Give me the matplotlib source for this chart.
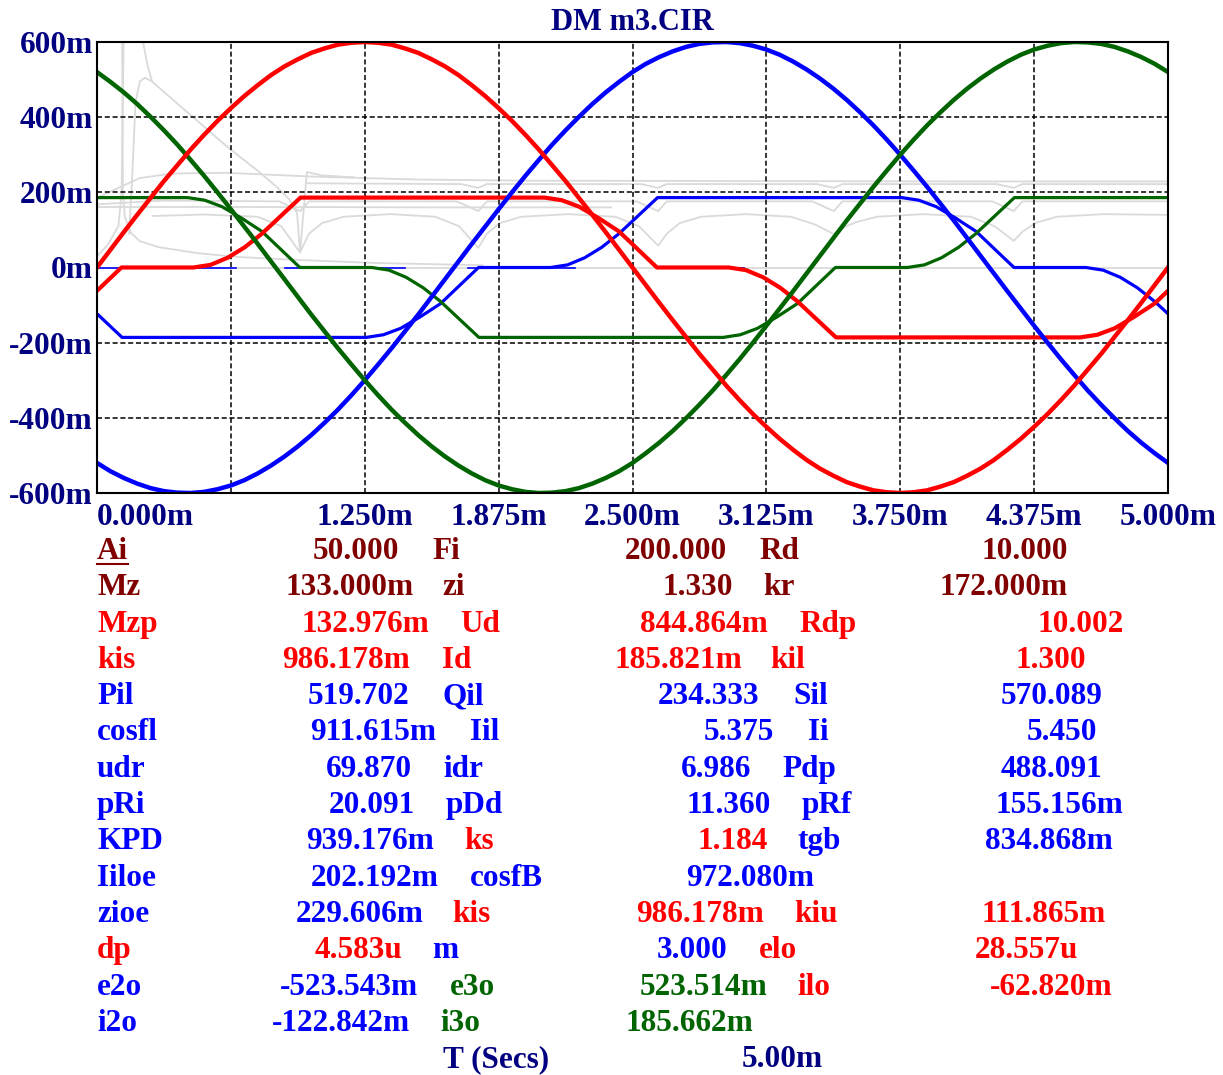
import matplotlib
matplotlib.use('Agg')
import matplotlib.pyplot as plt
from matplotlib.lines import Line2D

plt.rcParams['font.family'] = ['Liberation Serif', 'DejaVu Serif']
plt.rcParams['font.weight'] = 'bold'

W, H = 1223, 1075

# ---------------- data (time in ms, values in m-units) ----------------
t_sine = [0.0, 0.0625, 0.125, 0.1875, 0.25, 0.3125, 0.375, 0.4375, 0.5, 0.5625,
          0.625, 0.6875, 0.75, 0.8125, 0.875, 0.9375, 1.0, 1.0625, 1.125, 1.1875,
          1.25, 1.3125, 1.375, 1.4375, 1.5, 1.5625, 1.625, 1.6875, 1.75, 1.8125,
          1.875, 1.9375, 2.0, 2.0625, 2.125, 2.1875, 2.25, 2.3125, 2.375, 2.4375,
          2.5, 2.5625, 2.625, 2.6875, 2.75, 2.8125, 2.875, 2.9375, 3.0, 3.0625,
          3.125, 3.1875, 3.25, 3.3125, 3.375, 3.4375, 3.5, 3.5625, 3.625, 3.6875,
          3.75, 3.8125, 3.875, 3.9375, 4.0, 4.0625, 4.125, 4.1875, 4.25, 4.3125,
          4.375, 4.4375, 4.5, 4.5625, 4.625, 4.6875, 4.75, 4.8125, 4.875, 4.9375, 5.0]
e1 = [0, 47, 94, 140, 185, 230, 272, 314, 353, 390,
      424, 456, 485, 512, 535, 554, 571, 583, 593, 598,
      600, 598, 593, 583, 571, 554, 535, 512, 485, 456,
      424, 390, 353, 314, 272, 230, 185, 140, 94, 47,
      0, -47, -94, -140, -185, -230, -272, -314, -353, -390,
      -424, -456, -485, -512, -535, -554, -571, -583, -593, -598,
      -600, -598, -593, -583, -571, -554, -535, -512, -485, -456,
      -424, -390, -353, -314, -272, -230, -185, -140, -94, -47, 0]
e2 = [-520, -542, -560, -575, -587, -595, -599, -600, -597, -590,
      -580, -566, -548, -527, -503, -476, -446, -413, -378, -340,
      -300, -258, -215, -170, -125, -78, -31, 16, 63, 109,
      155, 200, 244, 286, 327, 365, 401, 435, 466, 494,
      520, 542, 560, 575, 587, 595, 599, 600, 597, 590,
      580, 566, 548, 527, 503, 476, 446, 413, 378, 340,
      300, 258, 215, 170, 125, 78, 31, -16, -63, -109,
      -155, -200, -244, -286, -327, -365, -401, -435, -466, -494, -520]
e3 = [520, 494, 466, 435, 401, 365, 327, 286, 244, 200,
      155, 109, 63, 16, -31, -78, -125, -170, -215, -258,
      -300, -340, -378, -413, -446, -476, -503, -527, -548, -566,
      -580, -590, -597, -600, -599, -595, -587, -575, -560, -542,
      -520, -494, -466, -435, -401, -365, -327, -286, -244, -200,
      -155, -109, -63, -16, 31, 78, 125, 170, 215, 258,
      300, 340, 378, 413, 446, 476, 503, 527, 548, 566,
      580, 590, 597, 600, 599, 595, 587, 575, 560, 542, 520]

i1_t = [0, 0.114, 0.45, 0.53, 0.61, 0.69, 0.77, 0.95, 2.09, 2.17, 2.25, 2.34, 2.437, 2.614,
        2.95, 3.03, 3.11, 3.19, 3.27, 3.45, 4.59, 4.67, 4.75, 4.84, 4.937, 5.0]
i1_v = [-62, 0, 0, 7, 26, 54, 90, 186, 186, 179, 162, 132, 96, 0,
        0, -7, -26, -54, -90, -186, -186, -179, -162, -132, -96, -62]
i2_t = [0, 0.117, 1.257, 1.337, 1.417, 1.507, 1.604, 1.781, 2.117, 2.197, 2.277, 2.357, 2.437, 2.617,
        3.757, 3.837, 3.917, 4.007, 4.104, 4.281, 4.617, 4.697, 4.777, 4.857, 4.937, 5.0]
i2_v = [-123, -186, -186, -179, -162, -132, -96, 0, 0, 7, 26, 54, 90, 186,
        186, 179, 162, 132, 96, 0, 0, -7, -26, -54, -90, -123]
i3_t = [0, 0.423, 0.503, 0.583, 0.673, 0.770, 0.947, 1.283, 1.363, 1.443, 1.523, 1.603, 1.783,
        2.923, 3.003, 3.083, 3.173, 3.270, 3.447, 3.783, 3.863, 3.943, 4.023, 4.103, 4.283, 5.0]
i3_v = [186, 186, 179, 162, 132, 96, 0, 0, -7, -26, -54, -90, -186,
        -186, -179, -162, -132, -96, 0, 0, 7, 26, 54, 90, 186, 186]

# thin blue trace along zero (visible pieces)
zero_pieces = [(0.0, 0.65), (0.88, 1.44), (1.73, 2.23), (2.96, 3.02)]

# faint grey background traces
g_top_t = [0, 0.1, 0.2, 0.35, 0.6, 1.0, 1.5, 2.0, 3.0, 4.0, 5.0]
g_top_v = [185, 212, 238, 250, 252, 242, 234, 231, 230, 229, 229]
g_222_t = [0.98, 1.70, 1.78, 1.82, 2.54, 2.62, 2.66, 3.36, 3.44, 3.48, 4.20, 4.28, 4.32, 5.0]
g_222_v = [224, 222, 212, 222, 222, 212, 222, 222, 212, 222, 222, 212, 222, 222]
g_176_t = [0, 0.3, 0.85, 0.948, 0.99, 1.68, 1.78, 1.82, 2.52, 2.62, 2.66, 3.34, 3.44, 3.48,
           4.18, 4.28, 4.32, 5.0]
g_176_v = [168, 178, 176, 150, 176, 176, 150, 176, 176, 150, 176, 176, 150, 176,
           176, 150, 176, 176]
g_160_t = [0, 0.8, 1.6, 2.4]
g_160_v = [161, 161, 160, 160]
g_low_t = [0.26, 0.5, 0.75, 0.86, 0.948, 0.99, 1.05, 1.15, 1.37, 1.58, 1.69, 1.78, 1.82, 1.88,
           1.98, 2.2, 2.42, 2.53, 2.62, 2.66, 2.72, 2.82, 3.03, 3.24, 3.35, 3.44, 3.48, 3.54,
           3.64, 3.86, 4.08, 4.19, 4.28, 4.32, 4.38, 4.48, 4.7, 5.0]
g_low_v = [137, 141, 135, 110, 40, 90, 118, 135, 142, 135, 110, 52, 90, 118,
           135, 142, 135, 110, 58, 90, 118, 135, 142, 135, 115, 89, 105, 120,
           135, 142, 135, 110, 71, 95, 118, 135, 142, 140]
g_zero_t = [0, 5.0]
g_zero_v = [0, 0]
g_spike_t = [0, 0.05, 0.1, 0.115, 0.125]
g_spike_v = [30, 60, 110, 200, 640]
g_hump_t = [0.15, 0.165, 0.18, 0.2, 0.224, 0.257, 0.373, 0.481, 0.588, 0.668, 0.747, 0.84,
            0.9, 0.934, 0.948, 0.98, 1.05, 1.2]
g_hump_v = [90, 250, 440, 495, 505, 495, 437, 384, 331, 294, 259, 214,
            180, 145, 40, 254, 245, 240]
g_top2_t = [0.205, 0.215, 0.235, 0.257]
g_top2_v = [640, 600, 540, 495]
g_decay_t = [0.117, 0.121, 0.13, 0.159, 0.2, 0.289, 0.472, 0.658, 0.938, 1.3, 1.8]
g_decay_v = [640, 200, 134, 92, 70, 54, 38, 28, 20, 12, 6]

x_ticks = [0, 0.625, 1.25, 1.875, 2.5, 3.125, 3.75, 4.375, 5.0]
x_labels = ['0.000m', '', '1.250m', '1.875m', '2.500m', '3.125m', '3.750m', '4.375m', '5.000m']
y_ticks = [-600, -400, -200, 0, 200, 400, 600]
y_labels = ['-600m', '-400m', '-200m', '0m', '200m', '400m', '600m']

MAROON, RED, BLUE, GREEN, NAVY = '#800000', '#ff0000', '#0000ff', '#006400', '#000080'

# rows: (baseline_px, [(x_px, text, colour), ...])
rows = [
    (559, [(97, 'Ai', MAROON), (313, '50.000', MAROON), (432, 'Fi', MAROON), (625, '200.000', MAROON),
           (759, 'Rd', MAROON), (982, '10.000', MAROON)]),
    (595, [(97, 'Mz', MAROON), (286, '133.000m', MAROON), (442, 'zi', MAROON), (663, '1.330', MAROON),
           (763, 'kr', MAROON), (940, '172.000m', MAROON)]),
    (632, [(97, 'Mzp', RED), (302, '132.976m', RED), (460, 'Ud', RED), (640, '844.864m', RED),
           (799, 'Rdp', RED), (1038, '10.002', RED)]),
    (668, [(97, 'kis', RED), (282, '986.178m', RED), (442, 'Id', RED), (614, '185.821m', RED),
           (770, 'kil', RED), (1015, '1.300', RED)]),
    (704, [(97, 'Pil', BLUE), (308, '519.702', BLUE), (443, 'Qil', BLUE), (658, '234.333', BLUE),
           (793, 'Sil', BLUE), (1001, '570.089', BLUE)]),
    (740, [(97, 'cosfl', BLUE), (310, '911.615m', BLUE), (470, 'Iil', BLUE), (704, '5.375', BLUE),
           (808, 'Ii', BLUE), (1027, '5.450', BLUE)]),
    (777, [(97, 'udr', BLUE), (326, '69.870', BLUE), (443, 'idr', BLUE), (681, '6.986', BLUE),
           (782, 'Pdp', BLUE), (1001, '488.091', BLUE)]),
    (813, [(97, 'pRi', BLUE), (329, '20.091', BLUE), (446, 'pDd', BLUE), (686, '11.360', BLUE),
           (802, 'pRf', BLUE), (995, '155.156m', BLUE)]),
    (849, [(97, 'KPD', BLUE), (306, '939.176m', BLUE), (464, 'ks', RED), (697, '1.184', RED),
           (798, 'tgb', BLUE), (985, '834.868m', BLUE)]),
    (886, [(97, 'Iiloe', BLUE), (311, '202.192m', BLUE), (470, 'cosfB', BLUE), (686, '972.080m', BLUE)]),
    (922, [(97, 'zioe', BLUE), (296, '229.606m', BLUE), (452, 'kis', RED), (636, '986.178m', RED),
           (794, 'kiu', RED), (982, '111.865m', RED)]),
    (958, [(97, 'dp', RED), (315, '4.583u', RED), (432, 'm', BLUE), (657, '3.000', BLUE),
           (759, 'elo', RED), (975, '28.557u', RED)]),
    (995, [(97, 'e2o', BLUE), (280, '-523.543m', BLUE), (450, 'e3o', GREEN), (640, '523.514m', GREEN),
           (797, 'ilo', RED), (990, '-62.820m', RED)]),
    (1031, [(97, 'i2o', BLUE), (272, '-122.842m', BLUE), (440, 'i3o', GREEN), (626, '185.662m', GREEN)]),
    (1067, [(443, 'T (Secs)', NAVY), (742, '5.00m', NAVY)]),
]

# ---------------- figure ----------------
fig = plt.figure(figsize=(W / 100, H / 100), dpi=100, facecolor='white')
ax = fig.add_axes([97 / W, 1 - 493 / H, (1168 - 97) / W, (493 - 42) / H])
ax.set_xlim(0, 5.0)
ax.set_ylim(-600, 600)

FS = 22.5
GREY = '#dadada'
for tt, vv in [(g_top_t, g_top_v), (g_222_t, g_222_v), (g_176_t, g_176_v), (g_160_t, g_160_v),
               (g_low_t, g_low_v), (g_zero_t, g_zero_v), (g_spike_t, g_spike_v),
               (g_hump_t, g_hump_v), (g_top2_t, g_top2_v), (g_decay_t, g_decay_v)]:
    ax.plot(tt, vv, color=GREY, lw=1.3, zorder=1)

for yv in [-400, -200, 200, 400]:
    ax.axhline(yv, color='black', lw=1.1, ls=(0, (3.3, 1.8)), zorder=1.5)
for xv in x_ticks[1:-1]:
    ax.axvline(xv, color='black', lw=1.1, ls=(0, (3.3, 1.8)), zorder=1.5)

for a, b in zero_pieces:
    ax.plot([a, b], [0, 0], color=BLUE, lw=1.2, zorder=2)

ax.plot(i2_t, i2_v, color=BLUE, lw=2.3, zorder=3)
ax.plot(i3_t, i3_v, color=GREEN, lw=2.3, zorder=3)
ax.plot(i1_t, i1_v, color=RED, lw=3.0, zorder=3)
ax.plot(t_sine, e2, color=BLUE, lw=3.2, zorder=4)
ax.plot(t_sine, e3, color=GREEN, lw=3.2, zorder=4)
ax.plot(t_sine, e1, color=RED, lw=3.2, zorder=4)

for s in ax.spines.values():
    s.set_color('black')
    s.set_linewidth(1.5)
    s.set_zorder(5)

ax.set_xticks(x_ticks)
ax.set_xticklabels(x_labels)
ax.set_yticks(y_ticks)
ax.set_yticklabels(y_labels)
ax.tick_params(axis='both', length=0, labelsize=FS, labelcolor=NAVY)
ax.tick_params(axis='x', pad=7)
ax.tick_params(axis='y', pad=3)
for lab in ax.get_xticklabels():
    lab.set_fontweight('bold')
ax.get_xticklabels()[0].set_horizontalalignment('left')
for lab in ax.get_yticklabels():
    lab.set_fontweight('bold')

fig.text(632 / W, 1 - 22 / H, 'DM m3.CIR', ha='center', va='center', fontsize=22,
         color=NAVY, fontweight='bold')

for base, items in rows:
    for xp, s, c in items:
        fig.text(xp / W, 1 - base / H, s, ha='left', va='baseline', fontsize=FS,
                 color=c, fontweight='bold')

fig.add_artist(Line2D([97 / W, 128 / W], [1 - 564 / H, 1 - 564 / H], color=MAROON, lw=1.5))

fig.savefig('out.png', dpi=100, facecolor='white')
